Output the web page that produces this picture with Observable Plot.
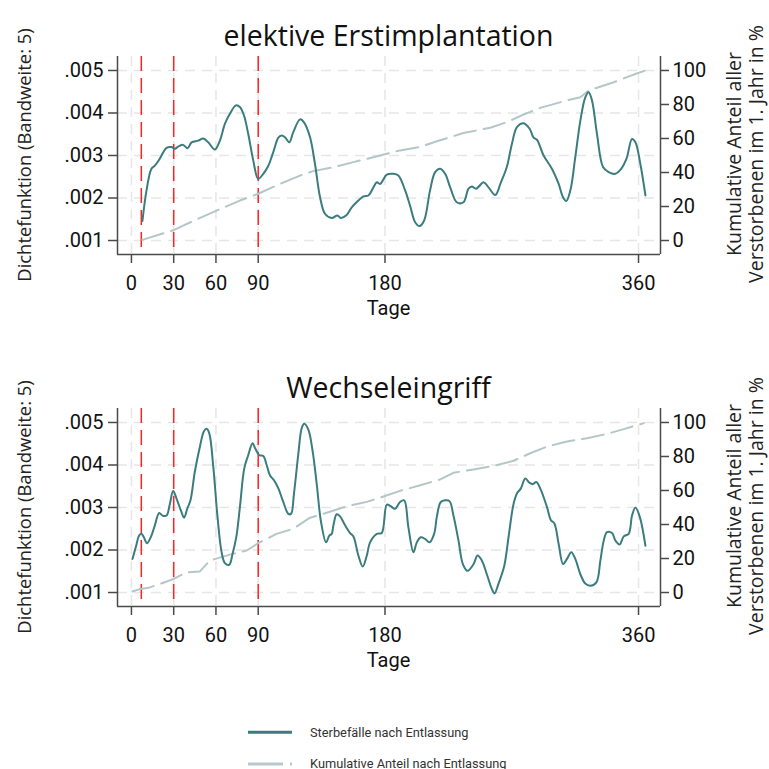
<!DOCTYPE html>
<html>
<head>
<meta charset="utf-8">
<script src="https://cdn.jsdelivr.net/npm/d3@7"></script>
<script src="https://cdn.jsdelivr.net/npm/@observablehq/plot@0.6"></script>
<style>
  html, body { margin: 0; padding: 0; background: #fff; }
  #root { position: relative; width: 769px; height: 769px; overflow: hidden; background: #fff; }
  .abs { position: absolute; }
  .title { font-family: "Open Sans", Roboto, sans-serif; font-size: 28.5px; color: #111; text-align: center; line-height: 30px; white-space: nowrap; }
  .xlab { font-family: Roboto, sans-serif; font-size: 20px; color: #111; transform: translate(-50%, -50%); white-space: nowrap; }
  .ytitle { font-family: "Open Sans", sans-serif; color: #222; transform: translate(-50%, -50%) rotate(-90deg); white-space: nowrap; text-align: center; }
  .leg { font-family: Roboto, sans-serif; font-size: 12.8px; color: #333; white-space: nowrap; transform: translateY(-50%); }
</style>
</head>
<body>
<div id="root"></div>
<script>
// ---------- data ----------
const titles = ["elektive Erstimplantation", "Wechseleingriff"];
const xTicks = [0, 30, 60, 90, 180, 360];
const yTicks = [1, 2, 3, 4, 5];                 // density x 1000
const yTickLabels = [".001", ".002", ".003", ".004", ".005"];
const cumTicks = [0, 20, 40, 60, 80, 100];       // percent (right axis)
const markerDays = [7, 30, 90];
const xTitle = "Tage";
const yTitleLeft = "Dichtefunktion (Bandweite: 5)";
const yTitleRight = ["Kumulative Anteil aller", "Verstorbenen im 1. Jahr in %"];
const legendLabels = ["Sterbefälle nach Entlassung", "Kumulative Anteil nach Entlassung"];

// Panel 1: elektive Erstimplantation — density (x1000)
const p1Day = [7.8,10.7,14.2,16.6,20,24.9,28.4,30.8,33.2,36.7,39.8,42.7,47.4,51,54.5,59.2,62.8,66.4,69.9,74.2,77,79.9,82.9,86.5,90,93.6,97.2,100.7,104.3,106.6,109,112.1,114.9,119.7,122.5,126.8,130.3,133.9,137.4,142.2,146.2,148.6,152.8,156.4,161.1,164.7,168.2,171.8,174.2,176.5,181.3,186,189.5,194.3,197.8,201.4,204.5,207.8,212,215.6,219.2,222.7,226.3,231,235.7,239.3,241.7,244.7,250,253.5,258.3,262.3,266.5,270.1,273.7,278.4,282.7,285.5,287.9,292.6,298.5,303.3,306.4,308.7,311.6,315.1,318.7,322.2,324.6,327,330.5,334.8,338.8,343.6,347.1,351.4,355.4,357.8,361.3,364.9];
const p1Dens = [1.46,2.18,2.69,2.76,2.92,3.18,3.20,3.16,3.21,3.25,3.17,3.31,3.35,3.40,3.31,3.14,3.35,3.75,3.98,4.18,4.14,3.94,3.51,2.88,2.45,2.57,2.76,3.08,3.42,3.47,3.43,3.31,3.55,3.85,3.78,3.43,2.80,2.02,1.63,1.53,1.59,1.53,1.60,1.78,1.94,2.04,2.06,2.25,2.37,2.33,2.55,2.57,2.53,2.18,1.82,1.43,1.34,1.47,2.18,2.61,2.69,2.57,2.25,1.90,1.90,2.22,2.27,2.22,2.37,2.25,2.07,2.37,2.73,3.27,3.67,3.76,3.63,3.42,3.37,3.00,2.69,2.33,2.02,1.93,2.18,2.96,3.82,4.37,4.49,4.29,3.51,2.73,2.61,2.57,2.66,2.92,3.39,3.31,2.80,2.06];
// Panel 1: cumulative share (%)
const p1CumDay = [7.8,29.6,36.7,60.4,77,90,105.5,119.7,129.1,143.4,157.6,171.8,190.7,205,216.8,235.7,254.7,266.5,278.4,290.2,309.2,318.7,324.6,342.4,356.6,364.9];
const p1Cum = [0.4,6,8.8,17.6,23.5,27.5,33.3,38.2,40.8,43.1,46.1,49,53,55,58.4,63.2,66.3,69.6,74.1,78,82.4,84.3,88.2,93.1,97.6,100];

// Panel 2: Wechseleingriff — density (x1000)
const p2Day = [0.7,3.1,5.5,7.1,8.8,11.1,14.2,16.6,19.7,22,24.9,27.3,29.6,32,35.1,37.4,39.6,41.9,45,48.6,51.4,53.3,55.2,58.1,60.9,64,66.4,69.4,71.8,74.6,77,80.1,82.9,86,87.9,90.8,93.6,96,98.3,101.2,104.3,107.8,111.4,113.3,115.4,118.5,120.9,122.7,125.6,128.7,131.5,134.6,138.2,140.5,142.2,143.4,145.7,148.1,151.7,155.2,157.6,161.1,164.2,167.1,169.4,174.2,177.7,181.3,184,187.2,190.7,193.6,196.6,200.2,202.6,205.4,208.5,211.6,214.9,216.8,219.6,222.7,225.8,228.6,232.2,235.3,238.6,242.9,245.7,248.8,252.3,255.9,257.8,260.6,264.7,267.7,271.3,273.7,276.5,279.6,282.7,285,287.4,290.2,295,297.8,300.2,303.3,306.4,309.2,312.3,315.1,318.7,322.2,325.8,330.1,332.9,335.3,337.6,341.2,343.6,346.6,349.5,353,355.4,357.8,360.9,364.9];
const p2Dens = [1.79,2.07,2.34,2.38,2.30,2.16,2.34,2.58,2.87,2.81,2.81,3.09,3.39,3.21,2.93,2.76,2.97,3.17,3.84,4.43,4.79,4.85,4.75,3.96,2.85,1.95,1.69,1.65,1.91,2.34,3.01,3.92,4.23,4.51,4.39,4.23,4.21,4.00,3.76,3.64,3.45,3.13,2.85,2.85,3.33,4.27,4.87,4.97,4.83,4.31,3.56,2.66,2.18,2.34,2.38,2.58,2.84,2.79,2.58,2.40,2.32,1.87,1.61,1.87,2.18,2.38,2.40,3.07,3.03,2.97,3.13,3.17,2.54,1.95,2.18,2.30,2.26,2.18,2.38,2.78,3.13,3.17,3.15,2.81,2.22,1.67,1.51,1.67,1.87,1.75,1.43,1.08,0.98,1.21,1.63,2.30,3.09,3.33,3.45,3.68,3.58,3.55,3.60,3.45,3.01,2.70,2.63,2.14,1.67,1.79,1.95,1.79,1.43,1.21,1.16,1.24,1.75,2.22,2.42,2.40,2.22,2.13,2.32,2.38,2.81,3.00,2.78,2.10];
// Panel 2: cumulative share (%)
const p2CumDay = [0.7,5.9,13,21.3,29.6,39.1,48.6,55.7,69.9,81.8,90,103,114.9,126.8,136.3,152.8,167.1,176.5,190.7,205,219.2,228.6,242.9,257,271.3,283.1,295,309.2,323.4,337.6,349.5,363.7];
const p2Cum = [0.6,2,3,5.3,7.9,11.9,12.4,18.8,22.3,24.7,29,34.5,37.5,44,46.3,50.7,53.3,55.8,59.8,63.1,66.5,70.4,72.4,74.4,77.5,81.9,85.8,88.8,90.7,93.3,96.1,99.6];

// ---------- styling ----------
const teal = "#3b7c7e";
const cumColor = "#b3c6c8";
const redColor = "#ff2222";
const gridColor = "#e6e6e6";
const axisColor = "#4a4a4a";
const xDomain = [-9.9, 375.6];
const yDomain = [0.671, 5.329];
const cumToY = p => 1 + p / 25;   // secondary axis: 0% -> .001, 100% -> .005

const root = document.getElementById("root");

function addDiv(cls, text, styleObj) {
  const d = document.createElement("div");
  d.className = "abs " + cls;
  d.textContent = text;
  Object.assign(d.style, styleObj);
  root.appendChild(d);
  return d;
}

function panel(idx, days, dens, cumDays, cums, offset) {
  const densData = days.map((d, i) => ({day: d, v: dens[i]}));
  const cumData = cumDays.map((d, i) => ({day: d, pct: cums[i]}));
  const chart = Plot.plot({
    width: 769,
    height: 330,
    marginTop: 56,
    marginBottom: 76,
    marginLeft: 117,
    marginRight: 109,
    x: {domain: xDomain},
    y: {domain: yDomain},
    style: {fontFamily: "Roboto, sans-serif", fontSize: "20px", color: "#111", background: "transparent", overflow: "visible"},
    marks: [
      Plot.ruleY(yTicks, {stroke: gridColor, strokeWidth: 1.5, strokeDasharray: "10,7"}),
      Plot.ruleX(xTicks, {stroke: gridColor, strokeWidth: 1.5, strokeDasharray: "10,7"}),
      Plot.ruleX(markerDays, {stroke: redColor, strokeWidth: 1.5, strokeDasharray: "15,7"}),
      Plot.line(cumData, {x: "day", y: d => cumToY(d.pct), stroke: cumColor, strokeWidth: 2, strokeDasharray: "22,8"}),
      Plot.line(densData, {x: "day", y: "v", stroke: teal, strokeWidth: 2, curve: "catmull-rom"}),
      Plot.ruleX([xDomain[0], xDomain[1]], {stroke: axisColor, strokeWidth: 1.5}),
      Plot.ruleY([yDomain[0]], {stroke: axisColor, strokeWidth: 1.5}),
      Plot.axisX(xTicks, {anchor: "bottom", tickSize: 9, tickPadding: 12, label: null, stroke: axisColor, strokeWidth: 1.5, tickFormat: d => String(d)}),
      Plot.axisY(yTicks, {anchor: "left", tickSize: 9, tickPadding: 5, label: null, stroke: axisColor, strokeWidth: 1.5, tickFormat: d => yTickLabels[yTicks.indexOf(d)]}),
      Plot.axisY(cumTicks.map(cumToY), {anchor: "right", tickSize: 8, tickPadding: 4, label: null, stroke: axisColor, strokeWidth: 1.5, tickFormat: d => String(cumTicks[cumTicks.map(cumToY).indexOf(d)])})
    ]
  });
  chart.style.position = "absolute";
  chart.style.left = "0px";
  chart.style.top = offset + "px";
  root.appendChild(chart);

  addDiv("title", titles[idx], {left: "117px", width: "543px", top: (offset + 20) + "px"});
  addDiv("xlab", xTitle, {left: "388.5px", top: (offset + 308) + "px"});
  addDiv("ytitle", yTitleLeft, {left: "23px", top: (offset + 155) + "px", fontSize: "18.4px"});
  const rt = addDiv("ytitle", "", {left: "745px", top: (offset + 154) + "px", fontSize: "19.5px", lineHeight: "22px"});
  rt.innerHTML = "";
  yTitleRight.forEach((t, i) => {
    const s = document.createElement("div");
    s.textContent = t;
    rt.appendChild(s);
  });
}

panel(0, p1Day, p1Dens, p1CumDay, p1Cum, 0);
panel(1, p2Day, p2Dens, p2CumDay, p2Cum, 352);

// ---------- legend ----------
const ns = "http://www.w3.org/2000/svg";
const legSvg = document.createElementNS(ns, "svg");
legSvg.setAttribute("width", "769");
legSvg.setAttribute("height", "769");
legSvg.style.position = "absolute";
legSvg.style.left = "0px";
legSvg.style.top = "0px";
[[732.3, teal, null], [764, "#b9c9cb", "35,7"]].forEach(([y, c, dash]) => {
  const l = document.createElementNS(ns, "line");
  l.setAttribute("x1", 248); l.setAttribute("x2", 292);
  l.setAttribute("y1", y); l.setAttribute("y2", y);
  l.setAttribute("stroke", c); l.setAttribute("stroke-width", 3);
  if (dash) l.setAttribute("stroke-dasharray", dash);
  legSvg.appendChild(l);
});
root.appendChild(legSvg);
addDiv("leg", legendLabels[0], {left: "310px", top: "732px"});
addDiv("leg", legendLabels[1], {left: "310px", top: "763px"});
</script>
</body>
</html>
